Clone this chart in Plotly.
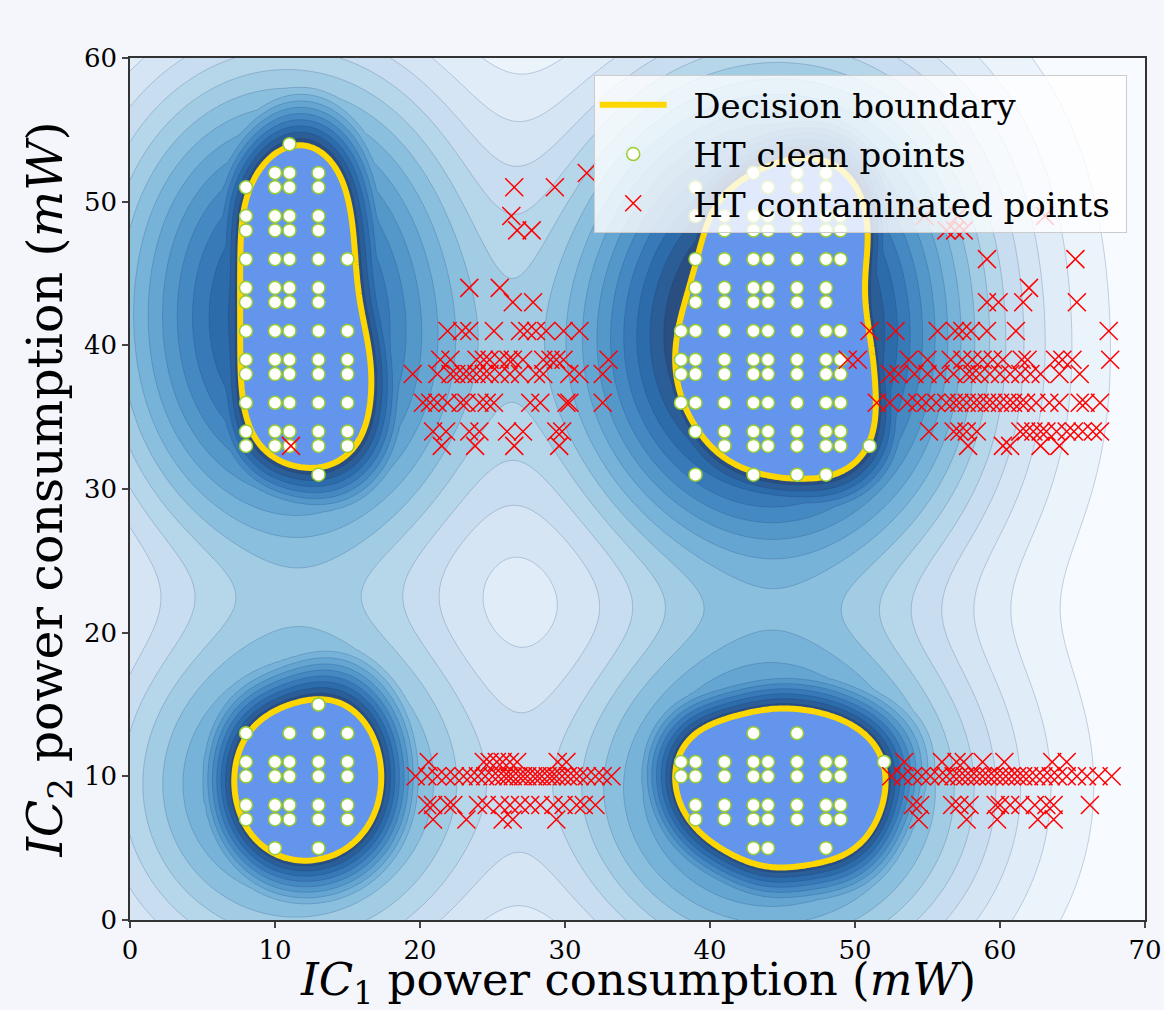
import numpy as np
import plotly.graph_objects as go

# ---------------- data ----------------
# clean points: (y, [x values]) per row
clean_top_left = [
    (54, [11]), (52, [10, 11, 13]), (51, [8, 10, 11, 13]), (49, [8, 10, 11, 13]),
    (48, [8, 10, 11, 13]), (46, [8, 10, 11, 13, 15]), (44, [8, 10, 11, 13]),
    (43, [8, 10, 11, 13]), (41, [8, 10, 11, 13, 15]), (39, [8, 10, 11, 13, 15]),
    (38, [8, 10, 11, 13, 15]), (36, [8, 10, 11, 13, 15]), (34, [8, 10, 11, 13, 15]),
    (33, [8, 10, 11, 13, 15]), (31, [13]),
]
clean_top_right = [
    (52, [43, 46, 48]), (51, [39, 44, 46, 48]), (49, [39, 41, 43, 44, 46, 48, 49]),
    (48, [41, 43, 44, 46, 48, 49]), (46, [39, 41, 43, 44, 46, 48, 49]),
    (44, [39, 41, 43, 44, 46, 48]), (43, [39, 41, 43, 44, 46, 48]),
    (41, [38, 39, 41, 43, 44, 46, 48, 49]), (39, [38, 39, 41, 43, 44, 46, 48, 49]),
    (38, [38, 39, 41, 43, 44, 46, 48, 49]), (36, [38, 39, 41, 43, 44, 46, 48, 49]),
    (34, [39, 41, 43, 44, 46, 48, 49]), (33, [41, 43, 44, 46, 48, 49, 51]),
    (31, [39, 43, 46, 48]),
]
clean_bottom_left = [
    (15, [13]), (13, [8, 11, 13, 15]), (11, [8, 10, 11, 13, 15]), (10, [8, 10, 11, 13, 15]),
    (8, [8, 10, 11, 13, 15]), (7, [8, 10, 11, 13, 15]), (5, [10, 13]),
]
clean_bottom_right = [
    (13, [43, 46]), (11, [38, 39, 41, 43, 44, 46, 48, 49, 52]),
    (10, [38, 39, 41, 43, 44, 46, 48, 49]), (8, [39, 41, 43, 44, 46, 48, 49]),
    (7, [39, 41, 43, 44, 46, 48, 49]), (5, [43, 44, 48]),
]

# contaminated points: (y, [x values]) per row
cont_top_left = [(33, [11.1])]
cont_top_mid = [
    (52, [31.5]), (51, [26.5, 29.3]), (49, [26.3]), (48, [26.7, 27.7]),
    (44, [23.4, 25.5]), (43, [26.4, 27.8]),
    (41, [21.9, 22.9, 23.4, 25.1, 26.9, 27.4, 28.0, 28.7, 29.9, 31.0]),
    (39, [21.4, 22.1, 23.9, 24.4, 24.8, 25.5, 26.1, 26.4, 27.1, 28.5, 29.0, 29.4, 29.9, 33.0]),
    (38, [19.5, 21.2, 22.1, 22.5, 23.0, 23.4, 23.9, 24.4, 24.8, 25.5, 26.2, 26.9, 28.0,
          28.5, 30.3, 31.0, 32.6]),
    (36, [20.2, 20.7, 21.2, 21.9, 22.8, 23.2, 24.1, 24.6, 25.1, 27.6, 28.3, 30.1, 30.3, 32.6]),
    (34, [20.9, 21.8, 23.4, 24.1, 26.0, 27.1, 29.4, 29.8]),
    (33, [21.5, 23.8, 26.5, 29.6]),
]
cont_top_far = [
    (49, [54.8, 57.1, 63.1]), (48, [56.3, 56.9, 57.5]), (46, [59.1, 65.2]), (44, [62.0]),
    (43, [59.1, 59.9, 61.6, 65.3]),
    (41, [51.0, 52.8, 55.7, 56.9, 57.4, 58.0, 59.1, 61.1, 67.5]),
    (39, [49.5, 50.2, 53.7, 55.0, 56.6, 57.4, 58.1, 58.8, 59.5, 60.2, 61.5, 61.9, 63.8,
          64.3, 65.0, 67.6]),
    (38, [52.4, 53.0, 54.1, 55.0, 55.9, 56.8, 57.7, 58.1, 58.6, 59.3, 60.0, 60.7, 61.4,
          62.1, 62.8, 64.1, 65.5]),
    (36, [51.5, 52.4, 53.6, 54.3, 54.9, 55.6, 56.3, 56.8, 57.2, 57.7, 58.2, 58.6, 59.1,
          59.5, 60.0, 60.5, 60.9, 61.4, 61.8, 62.5, 63.4, 64.1, 65.5, 65.9, 66.9]),
    (34, [55.1, 56.8, 57.2, 57.7, 58.4, 61.4, 61.8, 62.3, 62.8, 63.2, 63.9, 64.6, 65.1,
          65.7, 66.4, 66.9]),
    (33, [57.8, 60.2, 60.7, 62.8, 64.1]),
]
cont_bottom_mid = [
    (11, [20.6, 24.4, 24.8, 25.3, 25.7, 26.2, 26.7, 29.5, 30.1]),
    (10, [19.7, 20.5, 21.2, 21.8, 22.4, 23.0, 23.5, 24.0, 24.5, 25.0, 25.4, 25.8, 26.1, 26.4,
          26.8, 27.1, 27.4, 27.8, 28.1, 28.4, 28.8, 29.1, 29.4, 29.8, 30.2, 30.6, 31.0, 31.5,
          32.1, 32.6, 33.2]),
    (8, [20.5, 20.9, 21.9, 22.3, 24.0, 24.6, 25.5, 26.2, 26.9, 27.6, 28.3, 29.2, 29.9, 30.8,
         31.3, 32.1]),
    (7, [20.9, 23.2, 25.7, 26.4, 29.4]),
]
cont_bottom_far = [
    (11, [53.4, 56.0, 57.0, 57.5, 58.8, 60.3, 63.6, 64.6]),
    (10, [52.5, 53.3, 54.0, 54.6, 55.2, 55.8, 56.3, 56.8, 57.2, 57.6, 58.0, 58.4, 58.8, 59.2,
          59.6, 60.0, 60.4, 60.8, 61.2, 61.6, 62.0, 62.5, 63.0, 63.5, 64.0, 64.6, 65.3, 66.0,
          66.8, 67.7]),
    (8, [54.0, 54.5, 56.7, 57.2, 57.9, 59.7, 60.0, 60.7, 61.4, 62.4, 63.2, 63.7, 66.2]),
    (7, [54.4, 57.7, 59.8, 62.6, 63.7]),
]

# points read on the decision boundary (left edge of each region)
boundary_ref_points = [(7.6, 40.0), (37.6, 39.0), (7.2, 10.0), (37.6, 10.0)]

x_ticks = [0, 10, 20, 30, 40, 50, 60, 70]
y_ticks = [0, 10, 20, 30, 40, 50, 60]


def rows_to_xy(rows):
    xs, ys = [], []
    for yv, xl in rows:
        for xv in xl:
            xs.append(xv)
            ys.append(yv)
    return np.array(xs, float), np.array(ys, float)


def flatten(groups):
    pts = [rows_to_xy(g) for g in groups]
    return np.concatenate([p[0] for p in pts]), np.concatenate([p[1] for p in pts])


clean_groups = [clean_top_left, clean_top_right, clean_bottom_left, clean_bottom_right]
cx, cy = flatten(clean_groups)
hx, hy = flatten([cont_top_left, cont_top_mid, cont_top_far, cont_bottom_mid, cont_bottom_far])

# ---------------- decision function (kernel model of the clean points) ----------------
gx = np.linspace(0, 70, 351)
gy = np.linspace(0, 60, 301)
GX, GY = np.meshgrid(gx, gy)
SX, SY, SHIFT_X, SHIFT_Y = 2.4, 2.9, 0.8, 0.3
S_WIDE = 7.0
Q_NEAR, K_FAR, P_FAR = 0.45, 0.9, 0.6


def kern(px, py, xs, ys, sx, sy, dx=0.0, dy=0.0):
    px = np.asarray(px, float)
    py = np.asarray(py, float)
    out = np.zeros_like(px, dtype=float)
    for xi, yi in zip(xs, ys):
        out += np.exp(-0.5 * (((px - xi - dx) / sx) ** 2 + ((py - yi - dy) / sy) ** 2))
    return out


parts = []
for g, (bx, by) in zip(clean_groups, boundary_ref_points):
    xs, ys = rows_to_xy(g)
    ref = kern(np.array([bx]), np.array([by]), xs, ys, SX, SY, SHIFT_X, SHIFT_Y)[0]
    parts.append(kern(GX, GY, xs, ys, SX, SY, SHIFT_X, SHIFT_Y) / ref)
F = np.max(np.array(parts), axis=0)          # = 1 on the decision boundary
W = kern(GX, GY, cx, cy, S_WIDE, S_WIDE)
Wb = kern(np.array([boundary_ref_points[0][0]]), np.array([boundary_ref_points[0][1]]),
          cx, cy, S_WIDE, S_WIDE)[0]
G = np.maximum(np.power(F, Q_NEAR), K_FAR * np.power(W / Wb, P_FAR))
G = np.where(F >= 1.0, np.maximum(G, 1.0), np.minimum(G, 0.999))

n_levels = 16
gmin = float(G.min())
step = (1.0 - gmin) / n_levels

bg = (244, 246, 252)
blues = [(247, 251, 255), (222, 235, 247), (198, 219, 239), (158, 202, 225), (107, 174, 214),
         (66, 146, 198), (33, 113, 181), (8, 81, 156), (8, 48, 107)]
alpha = 0.85
cscale = []
for i, c in enumerate(blues):
    r = [round(alpha * c[k] + (1 - alpha) * bg[k]) for k in range(3)]
    cscale.append([i / (len(blues) - 1), f"rgb({r[0]},{r[1]},{r[2]})"])

fig = go.Figure()
fig.add_trace(go.Contour(
    x=gx, y=gy, z=G, colorscale=cscale, showscale=False, hoverinfo="skip",
    contours=dict(start=gmin + step, end=1.0 - 1e-6, size=step, coloring="fill"),
    line=dict(width=0.6, color="rgba(20,50,110,0.35)"), showlegend=False,
))
fig.add_trace(go.Contour(
    x=gx, y=gy, z=F, showscale=False, hoverinfo="skip",
    contours=dict(type="constraint", operation="<", value=1.0),
    fillcolor="#6495ED", line=dict(color="#FFD700", width=6), showlegend=False,
))
NB = "\u00a0\u00a0"
fig.add_trace(go.Scatter(
    x=[None], y=[None], mode="lines", name=NB + "Decision boundary", legendgroup="a",
    line=dict(color="#FFD700", width=6),
))
fig.add_trace(go.Scatter(
    x=cx, y=cy, mode="markers", name=NB + "HT clean points", legendgroup="b",
    marker=dict(symbol="circle", size=13, color="white", line=dict(color="#9ACD32", width=1.5)),
))
fig.add_trace(go.Scatter(
    x=hx, y=hy, mode="markers", name=NB + "HT contaminated points\u00a0", legendgroup="c",
    marker=dict(symbol="x-thin", size=18, color="red", line=dict(color="red", width=1.5)),
))

axis_font = dict(family="DejaVu Serif", size=26, color="black")
fig.update_xaxes(
    range=[0, 70], tickvals=x_ticks, ticks="outside", ticklen=6, tickwidth=1.5,
    showline=True, linecolor="#333", linewidth=1.5, mirror=True, showgrid=False, zeroline=False,
    tickfont=axis_font, automargin=False,
)
fig.update_yaxes(
    range=[0, 60], tickvals=y_ticks, ticks="outside", ticklen=6, tickwidth=1.5,
    showline=True, linecolor="#333", linewidth=1.5, mirror=True, showgrid=False, zeroline=False,
    tickfont=axis_font, automargin=False,
    title=dict(text="<i>IC</i><sub>2</sub> power consumption (<i>mW</i>)",
               font=dict(family="DejaVu Serif", size=49, color="black"), standoff=6),
)
fig.add_annotation(
    text="<i>IC</i><sub>1</sub> power consumption (<i>mW</i>)",
    xref="paper", yref="paper", x=0.5, y=0, xanchor="center", yanchor="middle",
    yshift=-62, showarrow=False,
    font=dict(family="DejaVu Serif", size=45, color="black"),
)
fig.update_layout(
    width=1164, height=1010,
    margin=dict(l=130, r=19, t=58, b=90),
    paper_bgcolor="rgb(244,246,252)", plot_bgcolor="rgb(244,246,252)",
    legend=dict(
        x=0.982, y=0.98, xanchor="right", yanchor="top", tracegroupgap=2, itemwidth=67,
        bgcolor="rgba(255,255,255,0.8)", bordercolor="#cccccc", borderwidth=1,
        font=dict(family="DejaVu Serif", size=34, color="black"),
    ),
    showlegend=True,
)
fig.write_html(
    "out.html",
    config={"displayModeBar": False},
    post_script="document.body.style.margin='0';document.body.style.background='rgb(244,246,252)';",
)
